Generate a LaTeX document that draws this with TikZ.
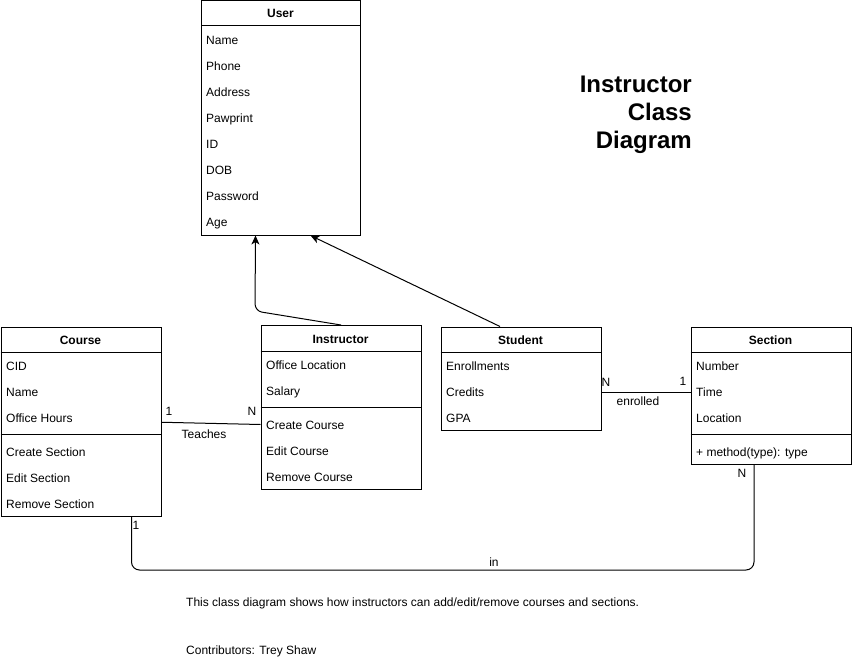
\documentclass[tikz,border=0pt]{standalone}
\usepackage{fontspec}
\setmainfont{Liberation Sans}
\usetikzlibrary{arrows.meta}
\begin{document}
\begin{tikzpicture}[x=1pt,y=-1pt,
  box/.style={draw,line width=1pt,anchor=north west,inner sep=0pt,fill=white},
  hdr/.style={font=\fontsize{12}{14}\selectfont\bfseries,anchor=base,inner sep=0pt},
  row/.style={font=\fontsize{12}{14}\selectfont,anchor=base west,inner sep=0pt},
  lbl/.style={font=\fontsize{12}{14}\selectfont,anchor=base,inner sep=0pt},
  conn/.style={line width=1pt},
  inh/.style={line width=1pt,-{Stealth[length=9pt,width=8pt,inset=2.5pt]},rounded corners=7pt},
]
\useasboundingbox (0,0) rectangle (852,661);
\fill[white] (0,0) rectangle (852,661);

% ---------- User ----------
\node[box,minimum width=159pt,minimum height=234pt] (user) at (201,0.5) {};
\draw[line width=1pt] (201,26) -- (360,26);
\node[hdr] (userh) at (280.5,18) {User};
\node[row] (u1) at (206,44.5) {Name};
\node[row] (u2) at (206,70.5) {Phone};
\node[row] (u3) at (206,96.5) {Address};
\node[row] (u4) at (206,122.5) {Pawprint};
\node[row] (u5) at (206,148.5) {ID};
\node[row] (u6) at (206,174.5) {DOB};
\node[row] (u7) at (206,200.5) {Password};
\node[row] (u8) at (206,226.5) {Age};

% ---------- Course ----------
\node[box,minimum width=160pt,minimum height=189.5pt] (course) at (0.5,326.5) {};
\draw[line width=1pt] (0.5,352) -- (160.5,352);
\draw[line width=1pt] (0.5,434.5) -- (160.5,434.5);
\node[hdr] (courseh) at (80.5,344) {Course};
\node[row] (c1) at (6,370) {CID};
\node[row] (c2) at (6,396) {Name};
\node[row] (c3) at (6,422) {Office Hours};
\node[row] (c4) at (6,456) {Create Section};
\node[row] (c5) at (6,482) {Edit Section};
\node[row] (c6) at (6,508) {Remove Section};

% ---------- Instructor ----------
\node[box,minimum width=160pt,minimum height=164pt] (instr) at (260.5,325) {};
\draw[line width=1pt] (260.5,351) -- (420.5,351);
\draw[line width=1pt] (260.5,407.5) -- (420.5,407.5);
\node[hdr] (instrh) at (340.5,343) {Instructor};
\node[row] (i1) at (266,369) {Office Location};
\node[row] (i2) at (266,395) {Salary};
\node[row] (i3) at (266,429) {Create Course};
\node[row] (i4) at (266,455) {Edit Course};
\node[row] (i5) at (266,481) {Remove Course};

% ---------- Student ----------
\node[box,minimum width=160pt,minimum height=103.5pt] (student) at (440.5,326.5) {};
\draw[line width=1pt] (440.5,352) -- (600.5,352);
\node[hdr] (studenth) at (520.5,344) {Student};
\node[row] (s1) at (446,370) {Enrollments};
\node[row] (s2) at (446,396) {Credits};
\node[row] (s3) at (446,422) {GPA};

% ---------- Section ----------
\node[box,minimum width=160pt,minimum height=137.5pt] (section) at (690.5,326.5) {};
\draw[line width=1pt] (690.5,352) -- (850.5,352);
\draw[line width=1pt] (690.5,434.5) -- (850.5,434.5);
\node[hdr] (sectionh) at (770.5,344) {Section};
\node[row] (e1) at (696,370) {Number};
\node[row] (e2) at (696,396) {Time};
\node[row] (e3) at (696,422) {Location};
\node[row] (e4) at (696,456) {+ method(type): type};

% ---------- Connectors ----------
\draw[conn] ([yshift=-0.5pt]course.east) -- ([yshift=-17pt]instr.west);
\node[lbl] (t1) at (169,415) {1};
\node[lbl] (tn) at (252,415) {N};
\node[lbl] (tt) at (204,438) {Teaches};

\draw[conn] ([yshift=-13.5pt]student.east) -- ([yshift=3.5pt]section.west);
\node[lbl] (en) at (606,386) {N};
\node[lbl] (e1l) at (683,385) {1};
\node[lbl] (el) at (638,405) {enrolled};

\coordinate (inA) at ([xshift=50.5pt]course.south);
\coordinate (inB) at ([xshift=-17pt]section.south);
\draw[conn,rounded corners=8pt] (inA) -- (inA |- 0,570) -- (inB |- 0,570) -- (inB);
\node[lbl] (in1) at (136,529) {1};
\node[lbl] (inN) at (742,477) {N};
\node[lbl] (inl) at (494,566) {in};

\coordinate (bend) at (255,311);
\draw[inh] (instr.north) -- (bend) -- ([xshift=-25.5pt]user.south);
\draw[inh] ([xshift=-21pt]student.north) -- ([xshift=29.5pt]user.south);

% ---------- Title & notes ----------
\node[font=\fontsize{24}{28}\selectfont\bfseries,align=right,anchor=north east,inner sep=0pt] (title) at (692,76) {Instructor\\Class\\Diagram};
\node[row] (note) at (186,606) {This class diagram shows how instructors can add/edit/remove courses and sections.};
\node[row] (contrib) at (186,654) {Contributors: Trey Shaw};
\end{tikzpicture}
\end{document}
